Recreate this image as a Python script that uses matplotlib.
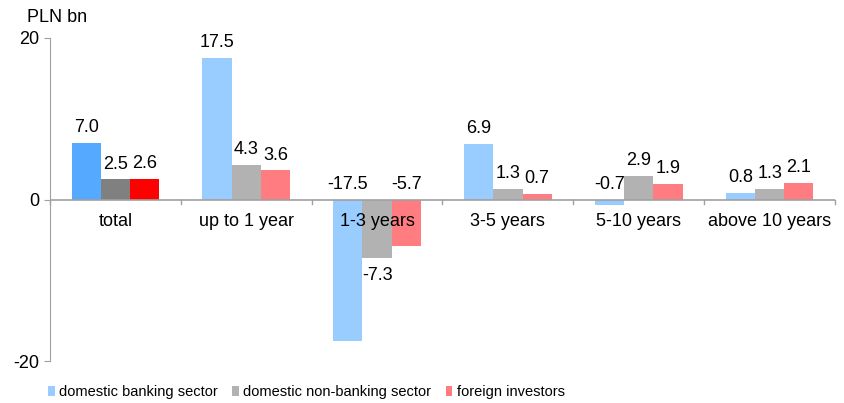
import numpy as np
import matplotlib.pyplot as plt
from matplotlib.patches import Patch

plt.rcParams['font.family'] = ['Liberation Sans', 'DejaVu Sans']
plt.rcParams['axes.unicode_minus'] = False

# data (PLN bn)
categories = ["total", "up to 1 year", "1-3 years", "3-5 years", "5-10 years", "above 10 years"]
series_names = ["domestic banking sector", "domestic non-banking sector", "foreign investors"]
banking = [7.0, 17.5, -17.5, 6.9, -0.7, 0.8]
non_banking = [2.5, 4.3, -7.3, 1.3, 2.9, 1.3]
foreign = [2.6, 3.6, -5.7, 0.7, 1.9, 2.1]

light = ["#99ccff", "#b2b2b2", "#ff7c80"]
dark = ["#55aaff", "#808080", "#ff0000"]   # "total" group is highlighted
axis_col = "#a0a0a0"

fig = plt.figure(figsize=(8.44, 4.03), dpi=100)
ax = fig.add_axes([50 / 844, 1 - 361 / 403, 785 / 844, 323 / 403])

x = np.arange(len(categories))
w = 0.223
# negative labels put above the zero line (as in the original)
lift = {(2, 0), (2, 2), (4, 0)}

for k, vals in enumerate([banking, non_banking, foreign]):
    cols = [dark[k] if i == 0 else light[k] for i in range(len(vals))]
    pos = x + (k - 1) * w
    ax.bar(pos, vals, w, color=cols, linewidth=0, zorder=2)
    for i, v in enumerate(vals):
        if v >= 0:
            ax.annotate("%.1f" % v, (pos[i], v), xytext=(0, 11), textcoords="offset points",
                        ha="center", va="center", fontsize=13, zorder=5)
        elif (i, k) in lift:
            ax.annotate("%.1f" % v, (pos[i], 0), xytext=(0, 10.5), textcoords="offset points",
                        ha="center", va="center", fontsize=13, zorder=5)
        else:
            ax.annotate("%.1f" % v, (pos[i], v), xytext=(0, -12), textcoords="offset points",
                        ha="center", va="center", fontsize=13, zorder=5)

# category labels under the zero line
for i, c in enumerate(categories):
    ax.annotate(c, (x[i], 0), xytext=(0, -16), textcoords="offset points",
                ha="center", va="center", fontsize=13, zorder=5)

ax.set_xlim(-0.5, len(categories) - 0.5)
ax.set_ylim(-20, 20)
ax.set_yticks([-20, 0, 20])
ax.tick_params(axis="y", labelsize=13, length=4, color=axis_col, direction="out")
ax.tick_params(axis="x", bottom=False, labelbottom=False)
for s in ["top", "right", "bottom"]:
    ax.spines[s].set_visible(False)
ax.spines["left"].set_color(axis_col)

ax.axhline(0, color=axis_col, linewidth=1.2, zorder=4)
for b in np.arange(len(categories) + 1) - 0.5:
    ax.plot([b, b], [0, -0.6], color=axis_col, linewidth=1, zorder=4, clip_on=False)

fig.text(27 / 844, 1 - 17 / 403, "PLN bn", fontsize=13, va="center", ha="left")

handles = [Patch(facecolor=c, linewidth=0) for c in light]
fig.legend(handles, series_names, loc="center left", bbox_to_anchor=(35 / 844, 1 - 392 / 403),
           ncol=3, frameon=False, fontsize=10.5, handlelength=0.45, handleheight=0.75,
           handletextpad=0.3, columnspacing=1.0)

fig.savefig("out.png", dpi=100)
